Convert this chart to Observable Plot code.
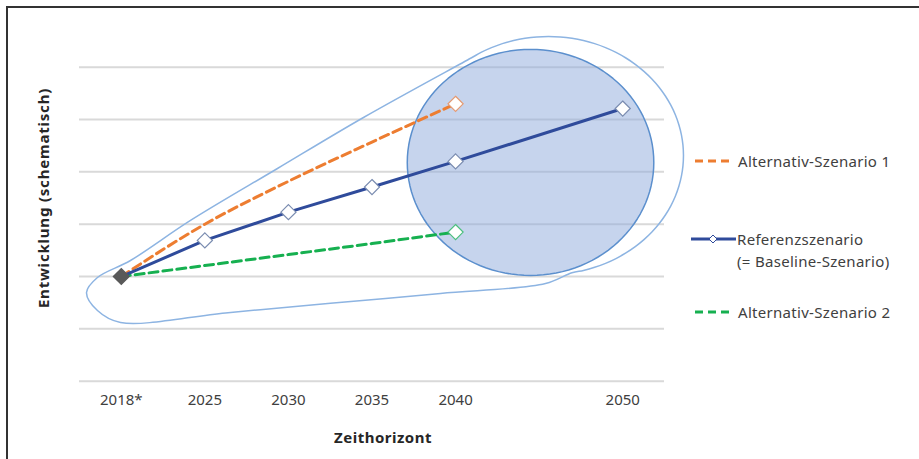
<!DOCTYPE html>
<html>
<head>
<meta charset="utf-8">
<script src="https://cdn.jsdelivr.net/npm/d3@7"></script>
<script src="https://cdn.jsdelivr.net/npm/@observablehq/plot@0.6"></script>
<style>
  html, body { margin: 0; padding: 0; background: #fff; }
  #wrap { position: relative; width: 919px; height: 459px; overflow: hidden; font-family: "Noto Sans", sans-serif; color: #404040; }
  #frame { position: absolute; left: 6px; top: 6px; width: 1000px; height: 1000px; border-left: 2px solid #333; border-top: 2px solid #333; }
  #chart { position: absolute; left: 0; top: 0; }
  .lbl { position: absolute; white-space: nowrap; font-size: 15px; letter-spacing: 0.3px; line-height: 1; color: #404040; }
  .title { position: absolute; white-space: nowrap; font-size: 15px; font-weight: bold; color: #262626; }
  .leg { position: absolute; }
</style>
</head>
<body>
<div id="wrap">
  <div id="frame"></div>
  <div id="chart"></div>
</div>
<script>
// ---- data ----
const years = ["2018*", "2025", "2030", "2035", "2040", "2050"];
// slot on the time axis (2050 is ten years after 2040, so it sits two slots on)
const slots = [0, 1, 2, 3, 4, 6];
const refValues  = [2.0, 2.69, 3.23, 3.71, 4.20, 5.21];   // Referenzszenario
const alt1Values = [2.0, 3.00, 3.82, 4.57, 5.30];         // Alternativ-Szenario 1 (bis 2040)
const alt2Values = [2.0, 2.21, 2.42, 2.63, 2.85];         // Alternativ-Szenario 2 (bis 2040)
const gridValues = [0, 1, 2, 3, 4, 5, 6];
const seriesNames = ["Alternativ-Szenario 1", "Referenzszenario", "Alternativ-Szenario 2"];

// highlight annotations (in data units)
const focus = {cx: 4.897, cy: 4.18, rx: 1.475, ry: 2.16};
const balloonHead = {cx: 5.112, cy: 4.313, rx: 1.615, ry: 2.274, from: 125, to: -80};
const balloonTailX = [5.076, 3.820, 2.503, 1.247, -0.009, -0.285, -0.416, -0.285, 0.110, 0.828, 1.869, 2.898];
const balloonTailY = [1.865, 1.676, 1.489, 1.305, 1.122, 1.351, 1.695, 1.982, 2.306, 3.071, 4.064, 5.039];

const colors = {alt1: "#ED7D31", ref: "#2F4B9B", alt2: "#16B050"};

// ---- build tables ----
const ref = years.map((y, i) => ({year: y, x: slots[i], v: refValues[i]}));
const alt1 = alt1Values.map((v, i) => ({year: years[i], x: slots[i], v}));
const alt2 = alt2Values.map((v, i) => ({year: years[i], x: slots[i], v}));
const rad = Math.PI / 180;
const balloon = d3.range(balloonHead.from, balloonHead.to - 0.1, -5).map(a => ({
  x: balloonHead.cx + balloonHead.rx * Math.cos(a * rad),
  y: balloonHead.cy + balloonHead.ry * Math.sin(a * rad)
})).concat(balloonTailX.map((x, i) => ({x, y: balloonTailY[i]})));
const ellipse = d3.range(0, 360, 3).map(a => ({
  x: focus.cx + focus.rx * Math.cos(a * rad),
  y: focus.cy + focus.ry * Math.sin(a * rad)
}));

const chart = Plot.plot({
  width: 919,
  height: 459,
  marginLeft: 79,
  marginRight: 255,
  marginTop: 66.7,
  marginBottom: 78.3,
  style: {fontFamily: "Noto Sans, sans-serif", fontSize: "15px", color: "#404040", background: "transparent"},
  x: {type: "linear", domain: [-0.5, 6.5], axis: null},
  y: {domain: [0, 6], axis: null},
  marks: [
    Plot.ruleY(gridValues, {stroke: "#d9d9d9", strokeWidth: 2}),
    Plot.line(balloon, {x: "x", y: "y", curve: "catmull-rom-closed", stroke: "#8DB4E2", strokeWidth: 1.5}),
    Plot.line(ellipse, {x: "x", y: "y", curve: "linear-closed", fill: "#8EAADB", fillOpacity: 0.5, stroke: "#5B8FCD", strokeWidth: 1.5}),
    Plot.line(alt2, {x: "x", y: "v", stroke: colors.alt2, strokeWidth: 3, strokeDasharray: "9,5"}),
    Plot.line(alt1, {x: "x", y: "v", curve: "monotone-x", stroke: colors.alt1, strokeWidth: 3, strokeDasharray: "9,5"}),
    Plot.line(ref, {x: "x", y: "v", stroke: colors.ref, strokeWidth: 3}),
    Plot.dot(ref.slice(1), {x: "x", y: "v", symbol: "diamond2", r: 6.8, fill: "white", stroke: "#7A8CB0", strokeWidth: 1.2}),
    Plot.dot(alt1.slice(-1), {x: "x", y: "v", symbol: "diamond2", r: 6.8, fill: "white", stroke: "#E59A72", strokeWidth: 1.2}),
    Plot.dot(alt2.slice(-1), {x: "x", y: "v", symbol: "diamond2", r: 6.8, fill: "white", stroke: "#4CC07E", strokeWidth: 1.2}),
    Plot.dot(ref.slice(0, 1), {x: "x", y: "v", symbol: "diamond2", r: 7, fill: "#595959", stroke: "#595959"}),
    Plot.axisX(slots, {tickFormat: (d) => years[slots.indexOf(d)], tickSize: 0, tickPadding: 13, fontSize: 15, fill: "#404040", label: null})
  ]
});
document.getElementById("chart").appendChild(chart);

// ---- titles and legend ----
const wrap = document.getElementById("wrap");
function addDiv(cls, text, style) {
  const d = document.createElement("div");
  d.className = cls;
  d.textContent = text;
  Object.assign(d.style, style);
  wrap.appendChild(d);
  return d;
}
addDiv("title", "Zeithorizont", {left: "383px", top: "437px", transform: "translate(-50%,-50%)", letterSpacing: "0.5px"});
addDiv("title", "Entwicklung (schematisch)", {left: "43px", top: "198px", transform: "translate(-50%,-50%) rotate(-90deg)", letterSpacing: "0.8px"});

function legendSwatch(top, color, dashed, marker) {
  const ns = "http://www.w3.org/2000/svg";
  const svg = document.createElementNS(ns, "svg");
  svg.setAttribute("width", 48); svg.setAttribute("height", 14);
  svg.setAttribute("class", "leg");
  svg.style.left = "690px"; svg.style.top = (top - 7) + "px";
  svg.style.position = "absolute";
  const line = document.createElementNS(ns, "line");
  line.setAttribute("x1", dashed ? 5 : 1); line.setAttribute("x2", dashed ? 39 : 46);
  line.setAttribute("y1", 7); line.setAttribute("y2", 7);
  line.setAttribute("stroke", color); line.setAttribute("stroke-width", 3);
  if (dashed) line.setAttribute("stroke-dasharray", "8,5");
  svg.appendChild(line);
  if (marker) {
    const p = document.createElementNS(ns, "path");
    p.setAttribute("d", "M23,3 L27,7 L23,11 L19,7 Z");
    p.setAttribute("fill", "white"); p.setAttribute("stroke", color); p.setAttribute("stroke-width", 1);
    svg.appendChild(p);
  }
  wrap.appendChild(svg);
}
legendSwatch(161, colors.alt1, true, false);
legendSwatch(239, colors.ref, false, true);
legendSwatch(312, colors.alt2, true, false);
addDiv("lbl", seriesNames[0] , {left: "738px", top: "161px", transform: "translateY(-50%)"});
addDiv("lbl", seriesNames[1], {left: "737px", top: "239px", transform: "translateY(-50%)"});
addDiv("lbl", "(= Baseline-Szenario)", {left: "737px", top: "261px", transform: "translateY(-50%)"});
addDiv("lbl", seriesNames[2], {left: "738px", top: "312px", transform: "translateY(-50%)"});
</script>
</body>
</html>
